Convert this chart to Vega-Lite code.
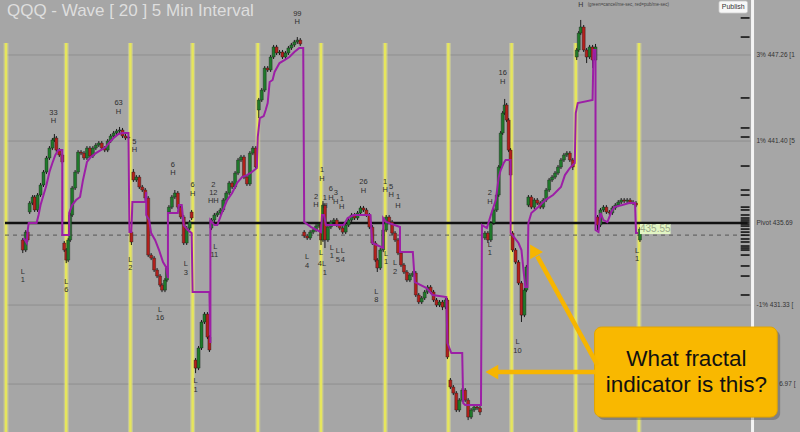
{
"$schema": "https://vega.github.io/schema/vega-lite/v6.json",
"width": 800, "height": 432,
"autosize": {"type": "fit", "contains": "padding"},
"padding": 0,
"background": "#a6a6a6",
"config": {"view": {"stroke": null}, "text": {"font": "Liberation Sans"}},
"datasets": {
"grid": [{"t":0,"t2":755,"p":447.39},{"t":0,"t2":755,"p":441.40},{"t":0,"t2":755,"p":429.98},{"t":0,"t2":755,"p":424.48}],
"vlines": [{"t":1,"p":448.23,"p2":421.14},{"t":62,"p":448.23,"p2":421.14},{"t":127,"p":448.23,"p2":421.14},{"t":190,"p":448.23,"p2":421.14},{"t":256,"p":448.23,"p2":421.14},{"t":320,"p":448.23,"p2":421.14},{"t":385,"p":448.23,"p2":421.14},{"t":449,"p":448.23,"p2":421.14},{"t":513,"p":448.23,"p2":421.14},{"t":578,"p":448.23,"p2":421.14},{"t":642,"p":448.23,"p2":421.14}],
"candles": [
{"t":18,"o":434.51,"h":434.65,"l":433.60,"c":433.81},{"t":21,"o":433.81,"h":435.20,"l":433.67,"c":435.06},{"t":23,"o":435.06,"h":435.20,"l":434.37,"c":434.51},{"t":25,"o":436.46,"h":437.22,"l":436.32,"c":437.08},{"t":28,"o":437.08,"h":437.64,"l":436.94,"c":437.50},{"t":30,"o":437.50,"h":437.64,"l":436.46,"c":436.60},{"t":33,"o":436.60,"h":437.78,"l":436.46,"c":437.64},{"t":36,"o":437.64,"h":438.48,"l":437.50,"c":438.34},{"t":39,"o":438.34,"h":439.38,"l":438.20,"c":439.24},{"t":42,"o":439.24,"h":440.36,"l":439.10,"c":440.22},{"t":45,"o":440.22,"h":441.05,"l":440.08,"c":440.91},{"t":48,"o":440.91,"h":441.61,"l":440.77,"c":441.47},{"t":50,"o":441.47,"h":441.89,"l":441.33,"c":441.61},{"t":52,"o":441.61,"h":441.75,"l":440.63,"c":440.77},{"t":55,"o":440.77,"h":440.91,"l":440.29,"c":440.43},{"t":58,"o":440.43,"h":440.57,"l":439.80,"c":439.94},
{"t":60,"o":434.30,"h":434.44,"l":433.67,"c":433.81},{"t":62,"o":433.81,"h":433.95,"l":432.90,"c":433.11},{"t":64,"o":433.11,"h":434.65,"l":432.97,"c":434.51},{"t":66,"o":434.51,"h":436.39,"l":434.37,"c":436.25},{"t":68,"o":436.25,"h":438.27,"l":436.11,"c":438.13},{"t":71,"o":438.13,"h":439.38,"l":437.99,"c":439.24},{"t":74,"o":439.24,"h":440.77,"l":439.10,"c":440.63},{"t":77,"o":440.63,"h":440.77,"l":440.42,"c":440.56},{"t":80,"o":440.56,"h":440.70,"l":440.08,"c":440.22},{"t":83,"o":440.22,"h":441.05,"l":440.08,"c":440.91},{"t":86,"o":440.91,"h":441.05,"l":440.22,"c":440.36},{"t":89,"o":440.36,"h":441.05,"l":440.22,"c":440.91},{"t":92,"o":440.91,"h":441.26,"l":440.77,"c":441.12},{"t":95,"o":441.12,"h":441.40,"l":440.98,"c":441.26},{"t":98,"o":441.26,"h":441.40,"l":440.77,"c":440.91},{"t":101,"o":440.91,"h":441.05,"l":440.63,"c":440.77},{"t":104,"o":440.77,"h":441.54,"l":440.63,"c":441.40},{"t":107,"o":441.40,"h":441.89,"l":441.26,"c":441.75},{"t":110,"o":441.75,"h":442.10,"l":441.61,"c":441.96},{"t":113,"o":441.96,"h":442.24,"l":441.82,"c":442.10},{"t":116,"o":442.10,"h":442.38,"l":441.96,"c":442.17},{"t":119,"o":442.17,"h":442.31,"l":441.61,"c":441.75},{"t":122,"o":441.75,"h":441.89,"l":441.47,"c":441.61},{"t":125,"o":441.61,"h":441.82,"l":441.47,"c":441.68},
{"t":128,"o":435.06,"h":435.20,"l":434.16,"c":434.37},{"t":130,"o":439.24,"h":439.45,"l":438.55,"c":438.69},{"t":133,"o":438.69,"h":439.03,"l":438.55,"c":438.89},{"t":136,"o":438.89,"h":439.03,"l":438.06,"c":438.20},{"t":139,"o":438.20,"h":438.34,"l":437.85,"c":437.99},{"t":142,"o":437.99,"h":438.13,"l":437.29,"c":437.43},{"t":145,"o":437.43,"h":437.57,"l":433.32,"c":433.46},{"t":148,"o":433.46,"h":433.60,"l":433.11,"c":433.25},{"t":151,"o":433.25,"h":433.39,"l":432.28,"c":432.42},{"t":154,"o":432.42,"h":432.56,"l":431.86,"c":432.00},{"t":157,"o":432.00,"h":432.14,"l":431.23,"c":431.37},{"t":159,"o":431.37,"h":431.51,"l":430.88,"c":431.02},{"t":162,"o":431.02,"h":431.86,"l":430.88,"c":431.72},{"t":164,"o":431.72,"h":432.70,"l":431.58,"c":432.56},{"t":166,"o":436.46,"h":436.94,"l":436.32,"c":436.80},{"t":169,"o":436.80,"h":437.64,"l":436.66,"c":437.50},{"t":172,"o":437.50,"h":437.99,"l":437.36,"c":437.78},{"t":175,"o":437.78,"h":437.92,"l":436.66,"c":436.80},{"t":178,"o":436.80,"h":436.94,"l":435.97,"c":436.11},{"t":181,"o":436.11,"h":436.25,"l":434.16,"c":434.30},{"t":184,"o":434.30,"h":435.48,"l":434.16,"c":435.34},{"t":187,"o":435.34,"h":435.90,"l":435.20,"c":435.76},{"t":189,"o":436.46,"h":436.60,"l":435.90,"c":436.04},
{"t":193,"o":426.15,"h":426.29,"l":425.24,"c":425.59},{"t":196,"o":425.59,"h":427.13,"l":425.45,"c":426.99},{"t":199,"o":426.99,"h":428.94,"l":426.85,"c":428.80},{"t":202,"o":428.80,"h":429.49,"l":428.66,"c":429.35},{"t":205,"o":429.35,"h":429.49,"l":427.61,"c":427.75},{"t":207,"o":427.75,"h":427.89,"l":426.71,"c":426.85},{"t":209,"o":435.34,"h":436.04,"l":435.20,"c":435.90},{"t":212,"o":435.90,"h":436.39,"l":435.76,"c":436.25},{"t":215,"o":436.25,"h":436.53,"l":436.11,"c":436.39},{"t":218,"o":436.39,"h":436.74,"l":436.25,"c":436.60},{"t":221,"o":436.60,"h":437.43,"l":436.46,"c":437.29},{"t":224,"o":437.29,"h":437.92,"l":437.15,"c":437.78},{"t":227,"o":437.78,"h":438.62,"l":437.64,"c":438.48},{"t":230,"o":438.48,"h":438.62,"l":438.06,"c":438.20},{"t":233,"o":438.20,"h":439.31,"l":438.06,"c":439.17},{"t":236,"o":439.17,"h":440.22,"l":439.03,"c":440.08},{"t":239,"o":440.08,"h":440.43,"l":439.94,"c":440.29},{"t":242,"o":440.29,"h":440.43,"l":438.75,"c":438.89},{"t":245,"o":438.89,"h":439.03,"l":438.27,"c":438.41},{"t":248,"o":438.41,"h":440.70,"l":438.27,"c":440.56},{"t":251,"o":440.56,"h":441.05,"l":440.42,"c":440.91},{"t":254,"o":440.91,"h":441.05,"l":439.45,"c":439.59},
{"t":257,"o":443.56,"h":444.40,"l":443.00,"c":444.26},{"t":260,"o":444.26,"h":445.09,"l":444.12,"c":444.95},{"t":263,"o":444.95,"h":446.62,"l":444.81,"c":446.48},{"t":266,"o":446.48,"h":446.62,"l":446.21,"c":446.35},{"t":269,"o":446.35,"h":447.39,"l":446.21,"c":447.25},{"t":272,"o":447.25,"h":448.09,"l":447.11,"c":447.95},{"t":275,"o":447.95,"h":448.09,"l":447.39,"c":447.53},{"t":278,"o":447.53,"h":447.74,"l":447.39,"c":447.60},{"t":281,"o":447.60,"h":447.74,"l":447.11,"c":447.25},{"t":284,"o":447.25,"h":447.67,"l":447.11,"c":447.53},{"t":287,"o":447.53,"h":448.02,"l":447.39,"c":447.88},{"t":290,"o":447.88,"h":448.23,"l":447.74,"c":448.09},{"t":293,"o":448.09,"h":448.44,"l":447.95,"c":448.30},{"t":296,"o":448.30,"h":448.64,"l":448.16,"c":448.43},{"t":299,"o":448.43,"h":448.57,"l":448.02,"c":448.16},
{"t":303,"o":435.06,"h":435.20,"l":434.65,"c":434.79},{"t":306,"o":434.79,"h":434.93,"l":434.51,"c":434.65},{"t":309,"o":434.65,"h":435.20,"l":434.51,"c":435.06},{"t":312,"o":435.06,"h":435.34,"l":434.92,"c":435.20},{"t":315,"o":435.20,"h":435.62,"l":435.06,"c":435.48},{"t":318,"o":435.48,"h":435.76,"l":435.34,"c":435.62},{"t":320,"o":435.62,"h":435.76,"l":434.16,"c":434.51},{"t":322,"o":434.51,"h":437.22,"l":434.37,"c":436.94},{"t":324,"o":436.94,"h":437.08,"l":433.95,"c":434.51},{"t":327,"o":434.51,"h":435.55,"l":434.37,"c":435.41},{"t":330,"o":435.41,"h":435.90,"l":435.27,"c":435.76},{"t":333,"o":435.76,"h":436.04,"l":435.62,"c":435.90},{"t":336,"o":435.90,"h":436.04,"l":435.41,"c":435.55},{"t":339,"o":435.55,"h":435.69,"l":435.20,"c":435.34},{"t":342,"o":435.34,"h":435.48,"l":434.92,"c":435.06},{"t":345,"o":435.06,"h":435.69,"l":434.92,"c":435.55},{"t":348,"o":435.55,"h":436.04,"l":435.41,"c":435.90},{"t":351,"o":435.90,"h":436.39,"l":435.76,"c":436.25},{"t":354,"o":436.25,"h":436.39,"l":435.90,"c":436.04},{"t":357,"o":436.04,"h":436.53,"l":435.90,"c":436.39},{"t":360,"o":436.39,"h":436.88,"l":436.25,"c":436.74},{"t":363,"o":436.74,"h":436.88,"l":436.46,"c":436.60},{"t":366,"o":436.60,"h":436.74,"l":436.11,"c":436.25},{"t":369,"o":436.25,"h":436.39,"l":435.27,"c":435.41},{"t":372,"o":435.41,"h":435.55,"l":434.16,"c":434.30},{"t":375,"o":434.30,"h":434.44,"l":432.97,"c":433.11},{"t":377,"o":433.11,"h":433.25,"l":432.28,"c":432.56},{"t":380,"o":432.56,"h":433.95,"l":432.42,"c":433.81},{"t":383,"o":433.81,"h":435.34,"l":433.67,"c":435.20},
{"t":386,"o":435.20,"h":436.25,"l":435.06,"c":436.11},{"t":389,"o":436.11,"h":436.25,"l":435.62,"c":435.76},{"t":392,"o":435.76,"h":435.90,"l":434.85,"c":434.99},{"t":395,"o":434.99,"h":435.13,"l":434.37,"c":434.51},{"t":398,"o":434.51,"h":434.65,"l":433.46,"c":433.60},{"t":401,"o":433.60,"h":433.74,"l":432.63,"c":432.77},{"t":404,"o":432.77,"h":432.91,"l":432.14,"c":432.28},{"t":407,"o":432.28,"h":432.42,"l":431.58,"c":431.72},{"t":410,"o":431.72,"h":432.21,"l":431.58,"c":432.07},{"t":413,"o":432.07,"h":432.35,"l":431.93,"c":432.21},{"t":416,"o":432.21,"h":432.35,"l":430.54,"c":430.68},{"t":419,"o":430.68,"h":430.82,"l":430.05,"c":430.19},{"t":422,"o":430.19,"h":430.61,"l":430.05,"c":430.47},{"t":425,"o":430.47,"h":431.03,"l":430.33,"c":430.89},{"t":428,"o":430.89,"h":431.37,"l":430.75,"c":431.23},{"t":431,"o":431.23,"h":431.37,"l":430.75,"c":430.89},{"t":434,"o":430.89,"h":431.03,"l":430.19,"c":430.33},{"t":437,"o":430.33,"h":430.47,"l":429.84,"c":429.98},{"t":440,"o":429.98,"h":430.33,"l":429.84,"c":430.19},{"t":443,"o":430.19,"h":430.33,"l":429.63,"c":429.84},{"t":446,"o":429.84,"h":430.47,"l":429.70,"c":430.33},{"t":448,"o":430.33,"h":430.47,"l":426.22,"c":426.36},
{"t":451,"o":424.76,"h":424.90,"l":424.13,"c":424.27},{"t":454,"o":424.27,"h":424.41,"l":423.71,"c":423.85},{"t":457,"o":423.85,"h":423.99,"l":422.53,"c":422.67},{"t":460,"o":422.67,"h":423.50,"l":422.53,"c":423.36},{"t":463,"o":423.36,"h":424.20,"l":423.22,"c":424.06},{"t":466,"o":424.06,"h":424.20,"l":423.22,"c":423.36},{"t":469,"o":423.36,"h":423.50,"l":421.97,"c":422.18},{"t":472,"o":422.18,"h":422.81,"l":422.04,"c":422.67},{"t":475,"o":422.67,"h":423.02,"l":422.53,"c":422.88},{"t":478,"o":422.88,"h":423.02,"l":422.67,"c":422.81},{"t":481,"o":422.81,"h":422.95,"l":422.32,"c":422.53},{"t":486,"o":434.65,"h":435.13,"l":434.51,"c":434.99},{"t":489,"o":434.99,"h":435.13,"l":434.30,"c":434.51},{"t":492,"o":434.51,"h":435.83,"l":434.37,"c":435.69},{"t":495,"o":435.69,"h":436.74,"l":435.55,"c":436.60},{"t":498,"o":436.60,"h":437.78,"l":436.46,"c":437.64},{"t":500,"o":437.64,"h":439.73,"l":437.50,"c":439.59},{"t":502,"o":439.59,"h":442.10,"l":439.45,"c":441.96},{"t":504,"o":441.96,"h":443.49,"l":441.82,"c":443.35},{"t":506,"o":443.35,"h":444.33,"l":443.21,"c":443.91},{"t":508,"o":443.91,"h":444.05,"l":442.72,"c":442.86},{"t":510,"o":442.86,"h":443.00,"l":440.63,"c":440.77},{"t":512,"o":440.77,"h":440.91,"l":438.89,"c":439.03},
{"t":514,"o":434.99,"h":435.13,"l":433.67,"c":433.81},{"t":517,"o":433.81,"h":433.95,"l":432.83,"c":432.97},{"t":520,"o":432.97,"h":433.11,"l":431.37,"c":431.51},{"t":523,"o":431.51,"h":431.65,"l":428.80,"c":429.28},{"t":526,"o":429.28,"h":431.16,"l":429.14,"c":431.02},{"t":528,"o":431.02,"h":432.77,"l":430.88,"c":432.63},{"t":530,"o":436.94,"h":437.64,"l":436.80,"c":437.50},{"t":533,"o":437.50,"h":437.64,"l":436.66,"c":436.80},{"t":536,"o":436.80,"h":437.43,"l":436.66,"c":437.29},{"t":539,"o":437.29,"h":437.43,"l":436.94,"c":437.08},{"t":542,"o":437.08,"h":437.22,"l":436.66,"c":436.80},{"t":545,"o":436.80,"h":437.43,"l":436.66,"c":437.29},{"t":548,"o":437.29,"h":438.13,"l":437.15,"c":437.99},{"t":551,"o":437.99,"h":438.83,"l":437.85,"c":438.69},{"t":554,"o":438.69,"h":439.03,"l":438.55,"c":438.89},{"t":557,"o":438.89,"h":439.31,"l":438.75,"c":439.17},{"t":560,"o":439.17,"h":439.73,"l":439.03,"c":439.59},{"t":563,"o":439.59,"h":440.22,"l":439.45,"c":440.08},{"t":566,"o":440.08,"h":440.57,"l":439.94,"c":440.43},{"t":569,"o":440.43,"h":440.70,"l":440.29,"c":440.56},{"t":572,"o":440.56,"h":440.70,"l":439.94,"c":440.08},{"t":575,"o":440.08,"h":440.22,"l":439.38,"c":439.59},
{"t":579,"o":447.25,"h":447.88,"l":447.04,"c":447.74},{"t":581,"o":447.74,"h":449.06,"l":447.60,"c":448.92},{"t":583,"o":448.92,"h":449.83,"l":448.78,"c":449.34},{"t":586,"o":449.34,"h":449.48,"l":447.60,"c":447.74},{"t":589,"o":447.74,"h":447.88,"l":446.83,"c":447.25},{"t":592,"o":447.25,"h":448.09,"l":447.11,"c":447.95},{"t":595,"o":447.95,"h":448.09,"l":446.48,"c":447.04},{"t":598,"o":447.04,"h":448.16,"l":446.90,"c":447.95},{"t":600,"o":436.11,"h":436.25,"l":435.20,"c":435.55},{"t":603,"o":435.55,"h":436.74,"l":435.41,"c":436.60},{"t":606,"o":436.60,"h":436.94,"l":436.46,"c":436.80},{"t":609,"o":436.80,"h":436.94,"l":436.32,"c":436.46},{"t":612,"o":436.46,"h":436.60,"l":436.25,"c":436.39},{"t":615,"o":436.39,"h":436.88,"l":436.25,"c":436.74},{"t":618,"o":436.74,"h":437.08,"l":436.60,"c":436.94},{"t":621,"o":436.94,"h":437.29,"l":436.80,"c":437.15},{"t":624,"o":437.15,"h":437.43,"l":437.01,"c":437.29},{"t":627,"o":437.29,"h":437.43,"l":437.08,"c":437.22},{"t":630,"o":437.22,"h":437.43,"l":437.08,"c":437.29},{"t":633,"o":437.29,"h":437.43,"l":437.01,"c":437.15},{"t":636,"o":437.15,"h":437.29,"l":436.94,"c":437.08},{"t":639,"o":437.08,"h":437.22,"l":436.80,"c":436.94},{"t":643,"o":434.51,"h":435.41,"l":434.37,"c":435.27}
],
"purple": [
{"t":19,"p":434.65},{"t":22,"p":434.30},{"t":23,"p":435.20},{"t":24,"p":435.69},{"t":32,"p":435.69},{"t":34,"p":436.25},{"t":36,"p":436.94},{"t":39,"p":437.64},{"t":42,"p":438.34},{"t":45,"p":439.24},{"t":48,"p":439.87},{"t":51,"p":440.43},{"t":54,"p":440.77},{"t":58,"p":440.77},{"t":58,"p":434.85},{"t":65,"p":434.85},{"t":65,"p":436.39},{"t":68,"p":436.94},{"t":72,"p":437.29},{"t":76,"p":437.50},{"t":79,"p":438.69},{"t":83,"p":439.94},{"t":87,"p":440.29},{"t":92,"p":440.56},{"t":97,"p":440.77},{"t":102,"p":440.98},{"t":106,"p":441.33},{"t":110,"p":441.61},{"t":115,"p":441.89},{"t":119,"p":441.96},{"t":125,"p":441.96},{"t":126,"p":435.06},{"t":128,"p":435.06},{"t":129,"p":437.15},{"t":142,"p":437.15},{"t":143,"p":437.85},{"t":143,"p":436.25},{"t":146,"p":435.90},{"t":148,"p":434.99},{"t":152,"p":434.51},{"t":156,"p":433.81},{"t":160,"p":432.97},{"t":163,"p":432.63},{"t":165,"p":431.86},{"t":165,"p":436.39},{"t":175,"p":436.39},{"t":176,"p":436.94},{"t":179,"p":436.94},{"t":181,"p":435.55},{"t":185,"p":435.20},{"t":189,"p":434.99},{"t":190,"p":430.89},{"t":207,"p":430.89},{"t":208,"p":427.33},{"t":208,"p":435.90},{"t":212,"p":435.55},{"t":215,"p":435.55},{"t":220,"p":436.46},{"t":225,"p":437.29},{"t":230,"p":437.78},{"t":235,"p":438.48},{"t":240,"p":438.89},{"t":245,"p":439.03},{"t":250,"p":439.24},{"t":255,"p":439.52},{"t":256,"p":441.68},{"t":258,"p":443.00},{"t":262,"p":443.14},{"t":264,"p":443.56},{"t":266,"p":444.05},{"t":268,"p":445.51},{"t":271,"p":445.65},{"t":273,"p":446.21},{"t":278,"p":446.83},{"t":283,"p":447.04},{"t":288,"p":447.25},{"t":293,"p":447.60},{"t":298,"p":447.88},{"t":302,"p":447.88},{"t":303,"p":435.76},{"t":310,"p":435.41},{"t":320,"p":435.06},{"t":321,"p":436.25},{"t":323,"p":436.25},{"t":325,"p":435.55},{"t":343,"p":435.55},{"t":347,"p":436.04},{"t":353,"p":436.25},{"t":370,"p":436.25},{"t":372,"p":434.30},{"t":383,"p":433.95},{"t":383,"p":436.04},{"t":386,"p":435.76},{"t":400,"p":435.41},{"t":400,"p":433.67},{"t":413,"p":433.67},{"t":415,"p":431.58},{"t":427,"p":431.16},{"t":433,"p":430.68},{"t":447,"p":430.54},{"t":448,"p":427.33},{"t":452,"p":426.64},{"t":463,"p":426.64},{"t":464,"p":423.16},{"t":466,"p":423.02},{"t":482,"p":423.02},{"t":483,"p":435.55},{"t":488,"p":435.34},{"t":492,"p":436.25},{"t":497,"p":437.29},{"t":500,"p":438.89},{"t":502,"p":439.38},{"t":505,"p":439.87},{"t":507,"p":440.08},{"t":512,"p":440.08},{"t":512,"p":434.99},{"t":516,"p":434.65},{"t":520,"p":434.30},{"t":523,"p":433.81},{"t":525,"p":432.42},{"t":527,"p":431.23},{"t":529,"p":431.23},{"t":530,"p":435.69},{"t":533,"p":436.39},{"t":540,"p":436.80},{"t":547,"p":437.29},{"t":555,"p":437.64},{"t":563,"p":438.20},{"t":567,"p":439.03},{"t":572,"p":439.52},{"t":577,"p":439.87},{"t":578,"p":443.35},{"t":580,"p":444.05},{"t":595,"p":444.26},{"t":596,"p":447.74},{"t":598,"p":447.74},{"t":598,"p":435.20},{"t":601,"p":435.06},{"t":603,"p":436.39},{"t":606,"p":435.90},{"t":610,"p":435.76},{"t":614,"p":436.46},{"t":617,"p":436.80},{"t":625,"p":436.94},{"t":632,"p":437.08},{"t":638,"p":437.08},{"t":639,"p":434.99},{"t":641,"p":434.99}
],
"labels": [
{"t":18,"p":432.28,"s":"L"},{"t":18,"p":431.72,"s":"1"},{"t":49,"p":443.35,"s":"33"},{"t":49,"p":442.79,"s":"H"},{"t":62,"p":431.58,"s":"L"},{"t":62,"p":431.02,"s":"6"},{"t":115,"p":444.05,"s":"63"},{"t":115,"p":443.42,"s":"H"},{"t":131,"p":441.33,"s":"5"},{"t":131,"p":440.77,"s":"H"},{"t":127,"p":433.11,"s":"L"},{"t":127,"p":432.56,"s":"2"},{"t":170,"p":439.73,"s":"6"},{"t":170,"p":439.17,"s":"H"},{"t":190,"p":438.34,"s":"6"},{"t":190,"p":437.71,"s":"H"},{"t":183,"p":432.84,"s":"L"},{"t":183,"p":432.21,"s":"3"},{"t":157,"p":429.63,"s":"L"},{"t":157,"p":429.07,"s":"16"},{"t":211,"p":438.34,"s":"2"},{"t":211,"p":437.78,"s":"12"},{"t":211,"p":437.22,"s":"HH"},{"t":213,"p":434.02,"s":"L"},{"t":212,"p":433.46,"s":"11"},{"t":193,"p":424.69,"s":"L"},{"t":193,"p":424.06,"s":"1"},{"t":296,"p":450.24,"s":"99"},{"t":296,"p":449.69,"s":"H"},{"t":306,"p":433.32,"s":"L"},{"t":306,"p":432.70,"s":"4"},{"t":315,"p":437.50,"s":"2"},{"t":315,"p":436.94,"s":"H"},{"t":321,"p":439.38,"s":"1"},{"t":321,"p":438.75,"s":"H"},{"t":324,"p":437.43,"s":"1"},{"t":324,"p":436.87,"s":"H"},{"t":330,"p":438.06,"s":"6"},{"t":335,"p":437.78,"s":"3"},{"t":330,"p":437.43,"s":"H"},{"t":335,"p":437.15,"s":"H"},{"t":341,"p":437.36,"s":"1"},{"t":341,"p":436.80,"s":"H"},{"t":320,"p":433.60,"s":"L"},{"t":321,"p":432.84,"s":"4L"},{"t":324,"p":432.21,"s":"1"},{"t":331,"p":433.95,"s":"L"},{"t":331,"p":433.39,"s":"1"},{"t":337,"p":433.74,"s":"L"},{"t":337,"p":433.11,"s":"5"},{"t":342,"p":433.74,"s":"L"},{"t":342,"p":433.11,"s":"4"},{"t":363,"p":438.55,"s":"26"},{"t":363,"p":437.92,"s":"H"},{"t":376,"p":430.89,"s":"L"},{"t":376,"p":430.33,"s":"8"},{"t":385,"p":438.55,"s":"1"},{"t":385,"p":437.99,"s":"H"},{"t":391,"p":438.20,"s":"5"},{"t":391,"p":437.64,"s":"H"},{"t":398,"p":437.50,"s":"1"},{"t":398,"p":436.87,"s":"H"},{"t":386,"p":433.53,"s":"L"},{"t":386,"p":432.97,"s":"1"},{"t":395,"p":432.90,"s":"L"},{"t":395,"p":432.28,"s":"2"},{"t":491,"p":437.78,"s":"2"},{"t":491,"p":437.15,"s":"H"},{"t":491,"p":434.16,"s":"L"},{"t":491,"p":433.60,"s":"1"},{"t":504,"p":446.14,"s":"16"},{"t":504,"p":445.51,"s":"H"},{"t":519,"p":427.40,"s":"L"},{"t":519,"p":426.78,"s":"10"},{"t":640,"p":433.74,"s":"L"},{"t":640,"p":433.18,"s":"1"}
],
"ticks": [{"t":745,"t2":754,"p":449.97},{"t":745,"t2":754,"p":448.64},{"t":745,"t2":754,"p":444.40},{"t":745,"t2":754,"p":442.31},{"t":745,"t2":754,"p":441.68},{"t":745,"t2":754,"p":439.66},{"t":745,"t2":754,"p":437.99},{"t":745,"t2":754,"p":437.64},{"t":745,"t2":754,"p":436.80},{"t":745,"t2":754,"p":436.60},{"t":745,"t2":754,"p":436.25},{"t":745,"t2":754,"p":436.04},{"t":745,"t2":754,"p":435.90},{"t":745,"t2":754,"p":435.76},{"t":745,"t2":754,"p":435.62},{"t":745,"t2":754,"p":435.48},{"t":745,"t2":754,"p":435.27},{"t":745,"t2":754,"p":435.06},{"t":745,"t2":754,"p":434.85},{"t":745,"t2":754,"p":434.58},{"t":745,"t2":754,"p":434.37},{"t":745,"t2":754,"p":434.09},{"t":745,"t2":754,"p":433.95},{"t":745,"t2":754,"p":433.81},{"t":745,"t2":754,"p":433.46},{"t":745,"t2":754,"p":432.70},{"t":745,"t2":754,"p":432.00},{"t":745,"t2":754,"p":430.68}],
"rlabels": [{"t":761,"p":447.39,"s":"3% 447.26 [1"},{"t":761,"p":441.40,"s":"1% 441.40 [5"},{"t":761,"p":435.69,"s":"Pivot 435.69"},{"t":761,"p":429.98,"s":"-1% 431.33 ["},{"t":784,"p":424.48,"s":"6.97 ["}]
},
"encoding": {
"x": {"field": "t", "type": "quantitative", "scale": {"domain": [0, 800], "nice": false, "zero": false}, "axis": null},
"y": {"field": "p", "type": "quantitative", "scale": {"domain": [421.14, 451.22], "nice": false, "zero": false}, "axis": null}
},
"layer": [
{"data": {"name": "grid"}, "mark": {"type": "rule", "color": "#8f8f8f", "strokeWidth": 1, "clip": true}, "encoding": {"x2": {"field": "t2"}}},
{"data": {"name": "vlines"}, "mark": {"type": "rule", "color": "#eeee90", "strokeWidth": 5, "opacity": 0.4, "clip": true}, "encoding": {"y2": {"field": "p2"}}},
{"data": {"name": "vlines"}, "mark": {"type": "rule", "color": "#e6e65c", "strokeWidth": 2.5, "clip": true}, "encoding": {"y2": {"field": "p2"}}},
{"data": {"values": [{"t": 0, "t2": 752, "p": 434.85}]}, "mark": {"type": "rule", "color": "#555555", "strokeWidth": 1, "strokeDash": [4, 4], "clip": true}, "encoding": {"x2": {"field": "t2"}}},
{"data": {"values": [{"t": 0, "t2": 752, "p": 435.69}]}, "mark": {"type": "rule", "color": "#111111", "strokeWidth": 2.5, "clip": true}, "encoding": {"x2": {"field": "t2"}}},
{"data": {"name": "candles"}, "mark": {"type": "rule", "color": "#1a1a1a", "strokeWidth": 1, "clip": true}, "encoding": {"y": {"field": "l", "type": "quantitative"}, "y2": {"field": "h"}}},
{"data": {"name": "candles"}, "mark": {"type": "bar", "width": 3, "stroke": "#1a1a1a", "strokeWidth": 0.4, "clip": true}, "encoding": {"y": {"field": "o", "type": "quantitative"}, "y2": {"field": "c"}, "color": {"condition": {"test": "datum.c >= datum.o", "value": "#1f7a2a"}, "value": "#b3201c"}}},
{"data": {"name": "purple"}, "mark": {"type": "line", "color": "#9c1fa6", "strokeWidth": 2, "clip": true}, "encoding": {"order": {"value": null}}},
{"data": {"name": "labels"}, "mark": {"type": "text", "fontSize": 7.5, "color": "#2e2e2e", "baseline": "middle", "align": "center", "clip": true}, "encoding": {"text": {"field": "s"}}},
{"data": {"values": [{"t": 757, "p": 451.22, "p2": 421.14}]}, "mark": {"type": "rule", "color": "#f4f4f4", "strokeWidth": 3, "clip": true}, "encoding": {"y2": {"field": "p2"}}},
{"data": {"name": "ticks"}, "mark": {"type": "rule", "color": "#151515", "strokeWidth": 1.6, "clip": true}, "encoding": {"x2": {"field": "t2"}}},
{"data": {"name": "rlabels"}, "mark": {"type": "text", "fontSize": 6.5, "color": "#333333", "align": "left", "baseline": "middle", "clip": true}, "encoding": {"text": {"field": "s"}}},
{"data": {"values": [{"t": 2, "p": 450.45, "s": "QQQ - Wave [ 20 ] 5 Min Interval"}]}, "mark": {"type": "text", "fontSize": 17, "color": "#dedede", "align": "left", "baseline": "middle", "clip": true}, "encoding": {"text": {"field": "s"}}},
{"data": {"values": [{"t": 583, "p": 450.88, "s": "H"}]}, "mark": {"type": "text", "fontSize": 7, "color": "#333333", "align": "center", "baseline": "middle", "clip": true}, "encoding": {"text": {"field": "s"}}},
{"data": {"values": [{"t": 590, "p": 450.88, "s": "(green=cancel/me-sec, red=pub/me-sec)"}]}, "mark": {"type": "text", "fontSize": 4.5, "color": "#444444", "align": "left", "baseline": "middle", "clip": true}, "encoding": {"text": {"field": "s"}}},
{"data": {"values": [{"t": 723, "t2": 752, "p": 451.15, "p2": 450.31}]}, "mark": {"type": "rect", "fill": "#f7f7f7", "stroke": "#c8c8c8", "strokeWidth": 0.8, "cornerRadius": 2, "clip": true}, "encoding": {"x2": {"field": "t2"}, "y2": {"field": "p2"}}},
{"data": {"values": [{"t": 737.5, "p": 450.73, "s": "Publish"}]}, "mark": {"type": "text", "fontSize": 7, "color": "#333333", "align": "center", "baseline": "middle", "clip": true}, "encoding": {"text": {"field": "s"}}},
{"data": {"values": [{"t": 643, "t2": 674, "p": 435.62, "p2": 434.92}]}, "mark": {"type": "rect", "fill": "#e2f5c4", "clip": true}, "encoding": {"x2": {"field": "t2"}, "y2": {"field": "p2"}}},
{"data": {"values": [{"t": 658.5, "p": 435.27, "s": "435.55"}]}, "mark": {"type": "text", "fontSize": 10, "color": "#9aa88a", "align": "center", "baseline": "middle", "clip": true}, "encoding": {"text": {"field": "s"}}},
{"data": {"values": [{"t": 600, "t2": 785, "p": 428.24, "p2": 421.97}]}, "mark": {"type": "rect", "fill": "#000000", "opacity": 0.22, "cornerRadius": 7, "clip": true}, "encoding": {"x2": {"field": "t2"}, "y2": {"field": "p2"}}},
{"data": {"values": [{"t": 597, "t2": 782, "p": 428.45, "p2": 422.18}]}, "mark": {"type": "rect", "fill": "#f9b800", "stroke": "#e0a400", "strokeWidth": 1, "cornerRadius": 7, "clip": true}, "encoding": {"x2": {"field": "t2"}, "y2": {"field": "p2"}}},
{"data": {"values": [{"t": 690, "p": 425.73, "s": "What fractal"}, {"t": 690, "p": 423.92, "s": "indicator is this?"}]}, "mark": {"type": "text", "fontSize": 22.5, "color": "#111111", "align": "center", "baseline": "alphabetic", "clip": true}, "encoding": {"text": {"field": "s"}}},
{"data": {"values": [{"t": 598, "t2": 497, "p": 425.31, "p2": 425.31}, {"t": 600, "t2": 539, "p": 425.80, "p2": 433.39}]}, "mark": {"type": "rule", "color": "#f7b500", "strokeWidth": 4.5, "clip": true}, "encoding": {"x2": {"field": "t2"}, "y2": {"field": "p2"}}},
{"data": {"values": [{"t": 493, "p": 425.31}]}, "mark": {"type": "point", "shape": "triangle-left", "size": 220, "filled": true, "color": "#f7b500", "opacity": 1, "clip": true}},
{"data": {"values": [{"t": 535, "p": 433.81}]}, "mark": {"type": "point", "shape": "triangle-up", "angle": 330, "size": 220, "filled": true, "color": "#f7b500", "opacity": 1, "clip": true}}
]
}
